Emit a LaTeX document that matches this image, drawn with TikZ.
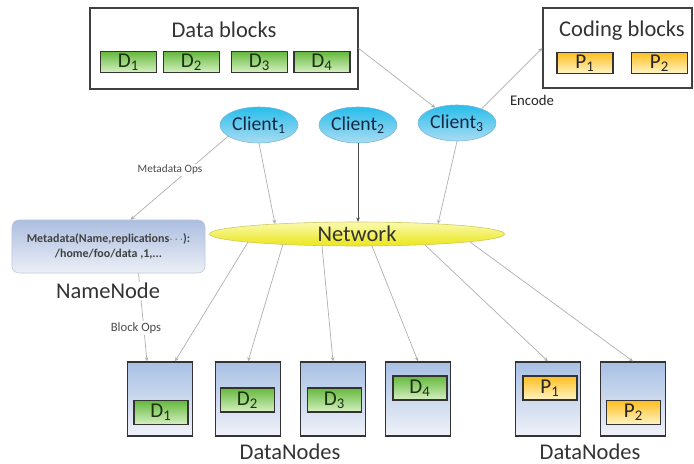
\documentclass[tikz,border=0pt]{standalone}
\usepackage{fontspec}
\setmainfont{Carlito}
\usepackage{xcolor}
\usetikzlibrary{positioning,shapes,arrows.meta,calc}
\definecolor{greentop}{RGB}{100,185,60}
\definecolor{greenbot}{RGB}{215,240,195}
\definecolor{yellowtop}{RGB}{255,190,30}
\definecolor{yellowbot}{RGB}{255,245,200}
\definecolor{nodetop}{RGB}{168,192,228}
\definecolor{nodebot}{RGB}{240,242,248}
\definecolor{clienttop}{RGB}{40,190,235}
\definecolor{clientbot}{RGB}{170,220,242}
\definecolor{nettop}{RGB}{250,250,175}
\definecolor{netbot}{RGB}{235,230,25}
\definecolor{nametop}{RGB}{172,190,224}
\definecolor{namebot}{RGB}{236,239,246}
\definecolor{linegray}{RGB}{175,175,175}
\definecolor{dtext}{RGB}{30,50,20}
\tikzstyle{group}=[rectangle, draw=black!75, line width=0.9pt, fill=white, inner sep=0pt]
\tikzstyle{title}=[text=black!80, inner sep=0pt, font=\fontsize{16}{18}\selectfont]
\tikzstyle{dblock}=[rectangle, draw=black!80, line width=0.8pt, top color=greentop, bottom color=greenbot,
minimum width=1.4cm, minimum height=0.525cm, inner sep=0pt, text=dtext, font=\fontsize{15}{16}\selectfont]
\tikzstyle{pblock}=[dblock, top color=yellowtop, bottom color=yellowbot, text=black!85]
\tikzstyle{client}=[ellipse, draw={rgb,255:red,120;green,180;blue,220}, top color=clienttop, bottom color=clientbot,
minimum width=1.95cm, minimum height=0.9cm, inner sep=0pt, text={rgb,255:red,20;green,40;blue,70}, font=\fontsize{14}{16}\selectfont]
\tikzstyle{network}=[ellipse, draw={rgb,255:red,205;green,200;blue,90}, top color=nettop, bottom color=netbot,
minimum width=7.375cm, minimum height=0.6cm, inner sep=0pt, text=black!80, font=\fontsize{16}{18}\selectfont]
\tikzstyle{namenode}=[rectangle, rounded corners=5pt, draw={rgb,255:red,190;green,200;blue,220}, top color=nametop, bottom color=namebot,
minimum width=4.825cm, minimum height=1.325cm, inner sep=0pt, align=center, text=black!75, font=\fontsize{8.5}{11}\selectfont\bfseries]
\tikzstyle{datanode}=[rectangle, draw=black!80, line width=0.9pt, top color=nodetop, bottom color=nodebot,
minimum width=1.625cm, minimum height=1.85cm, inner sep=0pt]
\tikzstyle{inblock}=[minimum width=1.35cm, minimum height=0.6cm]
\tikzstyle{link}=[-{Stealth[length=3pt,width=2.6pt]}, draw=linegray, line width=0.5pt]
\tikzstyle{oplabel}=[fill=white, inner sep=1pt, text=black!70, font=\fontsize{8}{9}\selectfont]
\tikzstyle{caption}=[inner sep=1pt, text=black!80, font=\fontsize{16}{18}\selectfont]

\begin{document}
\begin{tikzpicture}[x=0.025cm,y=-0.025cm]
    \useasboundingbox (0,0) rectangle (694,464);

    % block groups
    \node (data)[group, minimum width=6.7cm, minimum height=2.025cm] at (224,48.5) {};
    \node (datatitle)[title] at (224,30) {Data blocks};
    \node (d1)[dblock] at (128.5,62) {D\textsubscript{1}};
    \node (d2)[dblock] at (191.5,62) {D\textsubscript{2}};
    \node (d3)[dblock] at (259.5,62) {D\textsubscript{3}};
    \node (d4)[dblock] at (322,62) {D\textsubscript{4}};

    \node (coding)[group, minimum width=3.725cm, minimum height=2cm] at (617.5,48) {};
    \node (codingtitle)[title] at (622,31) {Coding blocks};
    \node (p1)[pblock] at (585,63) {P\textsubscript{1}};
    \node (p2)[pblock] at (659.5,63) {P\textsubscript{2}};

    % clients and network
    \node (c1)[client] at (259,125) {Client\textsubscript{1}};
    \node (c2)[client] at (358,125) {Client\textsubscript{2}};
    \node (c3)[client] at (457,123) {Client\textsubscript{3}};
    \node (net)[network] at (357,234) {Network};

    \node (nn)[namenode] at (108.5,246.5)
        {Metadata(Name,replications$\cdots$):\\ /home/foo/data ,1,...};

    % data nodes
    \node (dn1)[datanode] at (160,399) {};
    \node (dn2)[datanode] at (248,399) {};
    \node (dn3)[datanode] at (333,399) {};
    \node (dn4)[datanode] at (418,399) {};
    \node (dn5)[datanode] at (548,399) {};
    \node (dn6)[datanode] at (633,399) {};

    \node (b1)[dblock, inblock] at (161,412.5) {D\textsubscript{1}};
    \node (b2)[dblock, inblock] at (247.5,400) {D\textsubscript{2}};
    \node (b3)[dblock, inblock] at (334.5,400) {D\textsubscript{3}};
    \node (b4)[dblock, inblock] at (420,388) {D\textsubscript{4}};
    \node (b5)[pblock, inblock] at (550,388) {P\textsubscript{1}};
    \node (b6)[pblock, inblock] at (633.5,412.5) {P\textsubscript{2}};

    % connectors
    \draw [link] (data.east) -- (c3.145);
    \draw [link] (c3.30) -- (coding.west);
    \draw [link] (c1.200) -- ($(nn.north)+(22,0)$);
    \draw [link] (c1.south) -- ($(net.center)+(-82,-10)$);
    \draw [link, draw=black!70] (c2.south) -- (c2.south |- net.north);
    \draw [link] (c3.south) -- ($(net.center)+(81,-10)$);
    \draw [link] ($(nn.south)+(30,0)$) -- ($(dn1.north)+(-13,0)$);
    \draw [link] ($(net.center)+(-109,8)$) -- ($(dn1.north)+(15,0)$);
    \draw [link] ($(net.center)+(-74,10)$) -- (dn2.north);
    \draw [link] ($(net.center)+(-35,12)$) -- (dn3.north);
    \draw [link] ($(net.center)+(15,12)$) -- (dn4.north);
    \draw [link] ($(net.center)+(68,11)$) -- (dn5.north);
    \draw [link] ($(net.center)+(113,8)$) -- (dn6.north);

    % labels
    \node (metaops)[oplabel] at (170,170) {Metadata Ops};
    \node (blockops)[oplabel, font=\fontsize{9}{10}\selectfont] at (136,328) {Block Ops};
    \node (encode)[oplabel, text=black!85, font=\fontsize{10.5}{12}\selectfont] at (532,100) {Encode};
    \node (nnlabel)[caption, fill=white] at (108,291) {NameNode};
    \node (dnlabel1)[caption] at (290,452) {DataNodes};
    \node (dnlabel2)[caption] at (590,452) {DataNodes};
\end{tikzpicture}
\end{document}
